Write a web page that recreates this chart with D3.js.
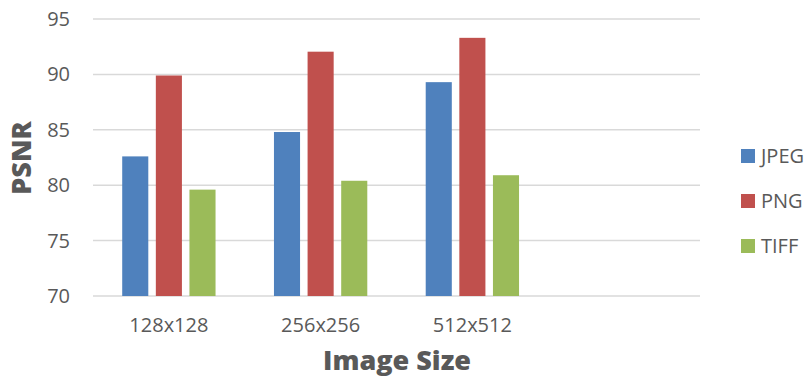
<!DOCTYPE html>
<html>
<head>
<meta charset="utf-8">
<script src="https://cdn.jsdelivr.net/npm/d3@7"></script>
<style>
  html, body { margin: 0; padding: 0; background: #fff; }
  svg { display: block; font-family: "Open Sans", sans-serif; }
</style>
</head>
<body>
<svg id="chart" width="807" height="381"></svg>
<script>
// Category axis: three image sizes plus an empty trailing slot
const categories = ["128x128", "256x256", "512x512", ""];
const seriesNames = ["JPEG", "PNG", "TIFF"];
const jpeg = [82.6, 84.8, 89.3];
const png  = [89.9, 92.05, 93.3];
const tiff = [79.6, 80.4, 80.9];
const yTicks = [70, 75, 80, 85, 90, 95];
const colors = ["#4F81BD", "#C0504D", "#9BBB59"];

const seriesValues = [jpeg, png, tiff];
const rows = categories.slice(0, 3).map((c, i) => ({
  cat: c,
  vals: seriesNames.map((s, k) => ({ key: s, value: seriesValues[k][i] }))
}));

const svg = d3.select("#chart");
const plotLeft = 93, plotRight = 700, plotTop = 19, plotBottom = 296;

const y = d3.scaleLinear().domain([70, 95]).range([plotBottom, plotTop]);
const x0 = d3.scaleBand().domain(categories).range([plotLeft, plotRight])
  .paddingInner(0.385).paddingOuter(0.1925);
const x1 = d3.scaleBand().domain(seriesNames).range([0, x0.bandwidth()])
  .paddingInner(0.224);
const color = d3.scaleOrdinal().domain(seriesNames).range(colors);

// Horizontal gridlines
svg.append("g").selectAll("line").data(yTicks).join("line")
  .attr("x1", plotLeft).attr("x2", plotRight)
  .attr("y1", d => y(d)).attr("y2", d => y(d))
  .attr("stroke", "#d9d9d9").attr("stroke-width", 1.5);

// Y axis tick labels
const yAxis = d3.axisLeft(y).tickValues(yTicks).tickSize(0).tickPadding(23);
svg.append("g").attr("transform", `translate(${plotLeft},0)`).call(yAxis)
  .call(g => g.select(".domain").remove())
  .selectAll("text")
  .attr("font-size", 20).attr("fill", "#595959")
  .attr("font-family", "Open Sans, sans-serif");

// X axis category labels
const xAxis = d3.axisBottom(x0).tickSize(0).tickPadding(22);
svg.append("g").attr("transform", `translate(0,${plotBottom})`).call(xAxis)
  .call(g => g.select(".domain").remove())
  .selectAll("text")
  .attr("font-size", 20).attr("fill", "#595959")
  .attr("font-family", "Open Sans, sans-serif");

// Clustered bars
svg.append("g").selectAll("g").data(rows).join("g")
  .attr("transform", d => `translate(${x0(d.cat)},0)`)
  .selectAll("rect").data(d => d.vals).join("rect")
  .attr("x", d => x1(d.key))
  .attr("width", x1.bandwidth())
  .attr("y", d => y(d.value))
  .attr("height", d => y(70) - y(d.value))
  .attr("fill", d => color(d.key));

// Axis titles
svg.append("text")
  .attr("transform", "translate(31,158) rotate(-90)")
  .attr("text-anchor", "middle")
  .attr("font-size", 27).attr("font-weight", 800)
  .attr("fill", "#595959")
  .text("PSNR");

svg.append("text")
  .attr("x", 397).attr("y", 370)
  .attr("text-anchor", "middle")
  .attr("font-size", 27).attr("font-weight", 800)
  .attr("fill", "#595959")
  .text("Image Size");

// Legend
const legend = svg.append("g").selectAll("g").data(seriesNames).join("g")
  .attr("transform", (d, i) => `translate(741,${149 + i * 45})`);
legend.append("rect").attr("width", 14).attr("height", 14)
  .attr("fill", d => color(d));
legend.append("text").attr("x", 20).attr("y", 7).attr("dy", "0.35em")
  .attr("font-size", 20).attr("fill", "#595959")
  .text(d => d);
</script>
</body>
</html>
